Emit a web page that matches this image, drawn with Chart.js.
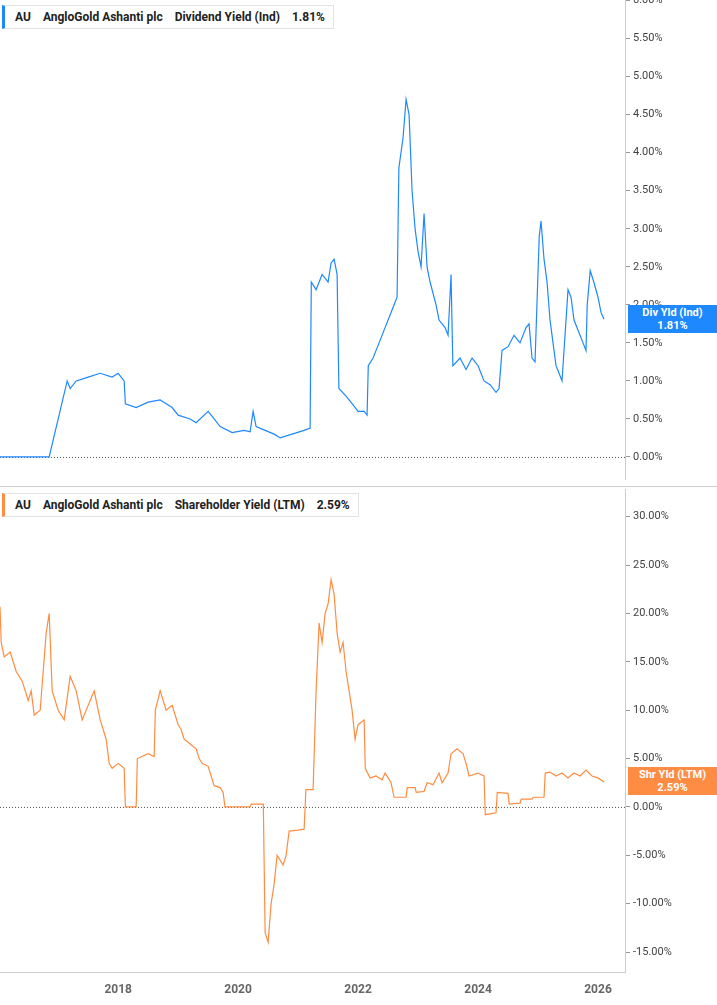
<!DOCTYPE html>
<html><head><meta charset="utf-8">
<script src="https://cdn.jsdelivr.net/npm/chart.js@4"></script>
<style>
body{margin:0;width:717px;height:1005px;background:#fff;font-family:Roboto,Arial,sans-serif;position:relative;overflow:hidden}
.pane{position:absolute;left:0;width:717px}
.hdr{position:absolute;left:2px;font-size:12px;font-weight:500;color:#222;background:#fff;border:1px solid #e3e3e3;padding:4px 8px 4px 10px;white-space:nowrap;z-index:5}
.hdr b{margin-right:12px}
.tag{position:absolute;left:628px;width:89px;height:28px;color:#fff;font-size:11px;font-weight:bold;text-align:center;line-height:13px;padding-top:1px;box-sizing:border-box;z-index:5}
.sep{position:absolute;left:0;top:486px;width:717px;height:1px;background:#ccc;z-index:4}
</style></head><body>
<div class="pane" style="top:-10px;height:530px;z-index:1"><canvas id="c1"></canvas></div>
<div class="pane" style="top:480px;height:525px;z-index:2;background:#fff"><canvas id="c2"></canvas></div>
<div class="sep"></div>
<div class="hdr" style="top:5px;border-left:3px solid #1e88ff"><b>AU</b><b>AngloGold Ashanti plc</b><b>Dividend Yield (Ind)</b><b style="margin:0">1.81%</b></div>
<div class="hdr" style="top:493px;border-left:3px solid #ff8c42"><b>AU</b><b>AngloGold Ashanti plc</b><b>Shareholder Yield (LTM)</b><b style="margin:0">2.59%</b></div>
<div class="tag" style="top:305px;background:#1e88ff">Div Yld (Ind)<br>1.81%</div>
<div class="tag" style="top:767px;background:#ff8c42">Shr Yld (LTM)<br>2.59%</div>
<script>
const divDates=[2016.0,2016.85,2017.15,2017.2,2017.3,2017.5,2017.7,2017.9,2018.0,2018.1,2018.12,2018.3,2018.5,2018.7,2018.8,2018.9,2019.0,2019.2,2019.3,2019.5,2019.6,2019.7,2019.9,2020.1,2020.2,2020.25,2020.3,2020.45,2020.6,2020.7,2020.9,2021.1,2021.2,2021.22,2021.3,2021.4,2021.5,2021.55,2021.6,2021.65,2021.68,2021.8,2021.9,2022.0,2022.1,2022.15,2022.17,2022.25,2022.35,2022.45,2022.55,2022.6,2022.65,2022.68,2022.75,2022.8,2022.85,2022.9,2022.95,2023.0,2023.05,2023.1,2023.15,2023.2,2023.3,2023.35,2023.45,2023.5,2023.55,2023.58,2023.7,2023.8,2023.9,2024.0,2024.1,2024.2,2024.3,2024.35,2024.4,2024.5,2024.6,2024.7,2024.8,2024.85,2024.9,2024.95,2025.02,2025.05,2025.1,2025.15,2025.2,2025.25,2025.3,2025.35,2025.4,2025.45,2025.5,2025.55,2025.6,2025.7,2025.75,2025.8,2025.82,2025.87,2025.93,2026.0,2026.05,2026.1];
const divYield=[0,0,1.0,0.9,1.0,1.05,1.1,1.05,1.1,1.0,0.7,0.65,0.72,0.75,0.7,0.65,0.55,0.5,0.45,0.6,0.5,0.4,0.32,0.35,0.33,0.6,0.4,0.35,0.3,0.25,0.3,0.35,0.38,2.3,2.2,2.4,2.3,2.55,2.6,2.4,0.9,0.8,0.7,0.6,0.6,0.55,1.2,1.3,1.5,1.7,1.9,2.0,2.1,3.8,4.2,4.7,4.5,3.5,3.0,2.7,2.5,3.2,2.5,2.3,2.0,1.8,1.7,1.6,2.4,1.2,1.3,1.15,1.3,1.2,1.0,0.95,0.85,0.9,1.4,1.45,1.6,1.5,1.7,1.75,1.3,1.25,2.9,3.1,2.6,2.3,1.8,1.5,1.2,1.1,1.0,1.6,2.2,2.1,1.8,1.6,1.5,1.4,2.0,2.45,2.3,2.1,1.9,1.81];
const shrDates=[2016.03,2016.05,2016.1,2016.2,2016.3,2016.4,2016.5,2016.55,2016.6,2016.7,2016.8,2016.85,2016.9,2017.0,2017.1,2017.2,2017.3,2017.4,2017.5,2017.6,2017.7,2017.8,2017.85,2017.9,2018.0,2018.1,2018.12,2018.3,2018.32,2018.5,2018.6,2018.62,2018.7,2018.8,2018.9,2019.0,2019.05,2019.1,2019.2,2019.3,2019.35,2019.4,2019.5,2019.6,2019.7,2019.75,2019.78,2020.0,2020.2,2020.22,2020.42,2020.45,2020.5,2020.55,2020.6,2020.65,2020.75,2020.8,2020.85,2021.0,2021.1,2021.13,2021.25,2021.3,2021.35,2021.4,2021.45,2021.5,2021.55,2021.6,2021.65,2021.7,2021.75,2021.8,2021.85,2021.9,2021.95,2022.0,2022.1,2022.12,2022.2,2022.3,2022.4,2022.45,2022.55,2022.6,2022.8,2022.82,2022.95,2022.97,2023.1,2023.15,2023.25,2023.35,2023.4,2023.5,2023.55,2023.65,2023.75,2023.8,2023.85,2024.0,2024.1,2024.12,2024.3,2024.32,2024.5,2024.52,2024.7,2024.72,2024.9,2024.92,2025.1,2025.12,2025.2,2025.3,2025.4,2025.5,2025.6,2025.7,2025.8,2025.9,2026.0,2026.1];
const shrYield=[20.7,17,15.5,16,14,13,11,12,9.5,10,18,20,12,10,9,13.5,12,9,10.5,12,9,7,4.5,4,4.5,4,0,0,5,5.5,5.2,10,12,10,10.5,8.5,8,7,6.5,6,5,4.5,4.2,2.2,2,1.5,0,0,0,0.3,0.3,-13,-14,-10,-8,-5,-6,-5,-2.5,-2.4,-2.3,1.8,1.8,12,19,17,20,21,23.5,22,18,16,17,14,12,10,7,8.5,9,4,3,3.2,2.8,3.5,2.5,1,1,2.0,2,1.5,1.6,2.5,2.3,3.5,2.5,3.5,5.5,6.0,5.5,4.5,3.2,3.5,3.2,-0.8,-0.6,1.5,1.4,0.3,0.4,0.8,0.8,1.0,1.0,3.5,3.6,3.2,3.5,3.0,3.5,3.2,3.8,3.2,3.0,2.59];
const divTicks=[0,0.5,1,1.5,2,2.5,3,3.5,4,4.5,5,5.5,6];
const shrTicks=[-15,-10,-5,0,5,10,15,20,25,30];
const yearTicks=[2018,2020,2022,2024,2026];
const XMIN=2016.03,XMAX=2026.45;
const zeroLine={id:'zero',beforeDatasetsDraw(c){const y=c.scales.y.getPixelForValue(0),a=c.chartArea,x=c.ctx;x.save();x.strokeStyle='#555';x.setLineDash([1,2]);x.lineWidth=1;x.beginPath();x.moveTo(a.left,y+0.5);x.lineTo(a.right,y+0.5);x.stroke();x.restore();}};
function mk(id,dates,vals,color,ticks,ymin,ymax,showX){
 return new Chart(document.getElementById(id),{type:'line',
  data:{datasets:[{data:dates.map((d,i)=>({x:d,y:vals[i]})),borderColor:color,borderWidth:1.2,pointRadius:0,tension:0}]},
  options:{responsive:true,maintainAspectRatio:false,animation:false,layout:{padding:0},
   plugins:{legend:{display:false},tooltip:{enabled:false}},
   scales:{
    x:{type:'linear',min:XMIN,max:XMAX,display:showX,grid:{display:false},border:{display:true,color:'#ccc'},
       afterBuildTicks(s){s.ticks=yearTicks.map(v=>({value:v}));},
       afterFit(s){s.height=33;},
       ticks:{color:'#666',font:{family:'Roboto',size:12,weight:'bold'},callback:v=>String(v),maxRotation:0}},
    y:{position:'right',min:ymin,max:ymax,grid:{drawOnChartArea:false,tickLength:5,color:'#999'},border:{display:true,color:'#ccc'},
       afterBuildTicks(s){s.ticks=ticks.map(v=>({value:v}));},
       afterFit(s){s.width=92;},
       ticks:{color:'#444',font:{family:'Roboto',size:11},padding:3,callback:v=>v.toFixed(2)+'%'}}
   }},plugins:[zeroLine]});
}
mk('c1',divDates,divYield,'#1e88ff',divTicks,-0.395,6.013,false);
mk('c2',shrDates,shrYield,'#ff8c42',shrTicks,-17.06,32.8,true);
</script></body></html>
